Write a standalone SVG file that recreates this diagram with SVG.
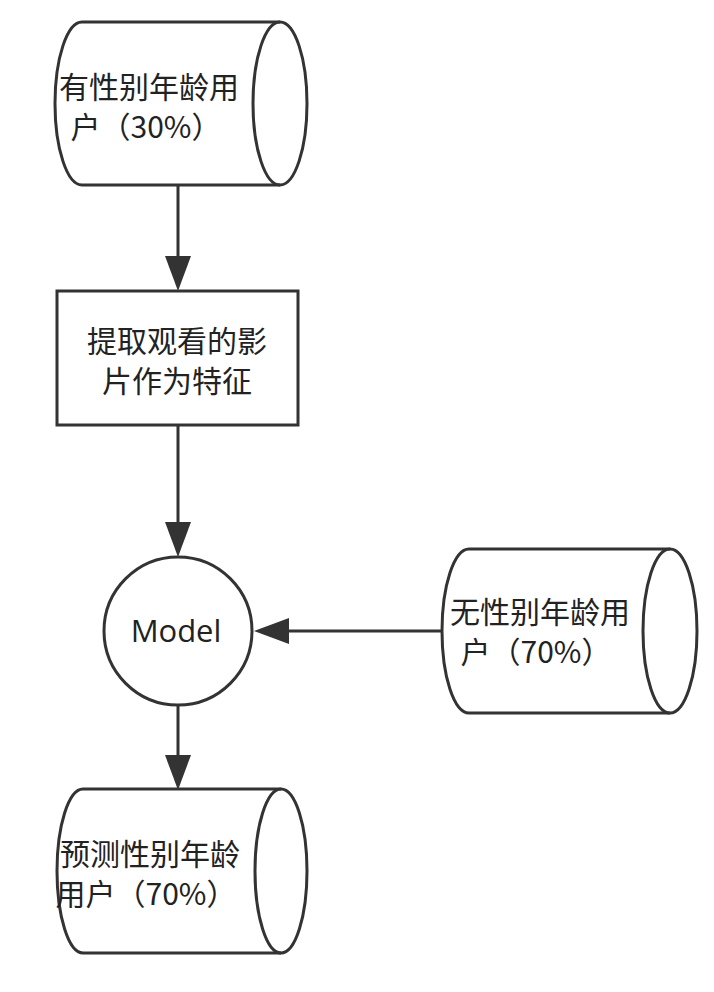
<svg xmlns="http://www.w3.org/2000/svg" width="714" height="992" viewBox="0 0 714 992">
  <defs>
    <style>
      .shape { fill: #ffffff; stroke: #333333; stroke-width: 3; }
      .inner { fill: none; stroke: #333333; stroke-width: 3; }
      .edge { fill: none; stroke: #333333; stroke-width: 3; }
      .cjk { font-family: "Noto Sans CJK SC", "Noto Sans", sans-serif; font-size: 30px; fill: #222222; text-anchor: middle; }
      .lat { font-family: "Open Sans", "Noto Sans", sans-serif; font-size: 31px; fill: #222222; text-anchor: middle; }
    </style>
    <marker id="arrow" markerUnits="userSpaceOnUse" markerWidth="36" markerHeight="26" refX="0" refY="13" orient="auto" viewBox="0 0 36 26">
      <path d="M0,0 L35,13 L0,26 Z" fill="#333333"/>
    </marker>
  </defs>
  <rect width="714" height="992" fill="#ffffff"/>

  <g id="connectors">
    <line class="edge" x1="178" y1="185" x2="178" y2="256" marker-end="url(#arrow)"/>
    <line class="edge" x1="178" y1="425" x2="178" y2="522" marker-end="url(#arrow)"/>
    <line class="edge" x1="178" y1="705" x2="178" y2="755" marker-end="url(#arrow)"/>
    <line class="edge" x1="442" y1="631" x2="289" y2="631" marker-end="url(#arrow)"/>
  </g>

  <g id="node-labeled-users">
    <path class="shape" d="M82,22 L280,22 A27,81.5 0 0 1 280,185 L82,185 A27,81.5 0 0 1 82,22 Z"/>
    <path class="inner" d="M280,22 A27,81.5 0 0 0 280,185"/>
    <text class="cjk" x="149" y="98">有性别年龄用</text>
    <text class="cjk" x="146" y="138">户（30%）</text>
  </g>

  <g id="node-extract-features">
    <rect class="shape" x="57" y="291" width="241" height="134"/>
    <text class="cjk" x="177" y="352">提取观看的影</text>
    <text class="cjk" x="177" y="392">片作为特征</text>
  </g>

  <g id="node-model">
    <circle class="shape" cx="178" cy="631" r="74"/>
    <text class="lat" x="176" y="642">Model</text>
  </g>

  <g id="node-unlabeled-users">
    <path class="shape" d="M469,549 L670,549 A27,82 0 0 1 670,713 L469,713 A27,82 0 0 1 469,549 Z"/>
    <path class="inner" d="M670,549 A27,82 0 0 0 670,713"/>
    <text class="cjk" x="540" y="623">无性别年龄用</text>
    <text class="cjk" x="536" y="663">户（70%）</text>
  </g>

  <g id="node-predicted-users">
    <path class="shape" d="M83,789 L281,789 A26,82 0 0 1 281,953 L83,953 A26,82 0 0 1 83,789 Z"/>
    <path class="inner" d="M281,789 A26,82 0 0 0 281,953"/>
    <text class="cjk" x="150" y="865">预测性别年龄</text>
    <text class="cjk" x="146" y="905">用户（70%）</text>
  </g>
</svg>
